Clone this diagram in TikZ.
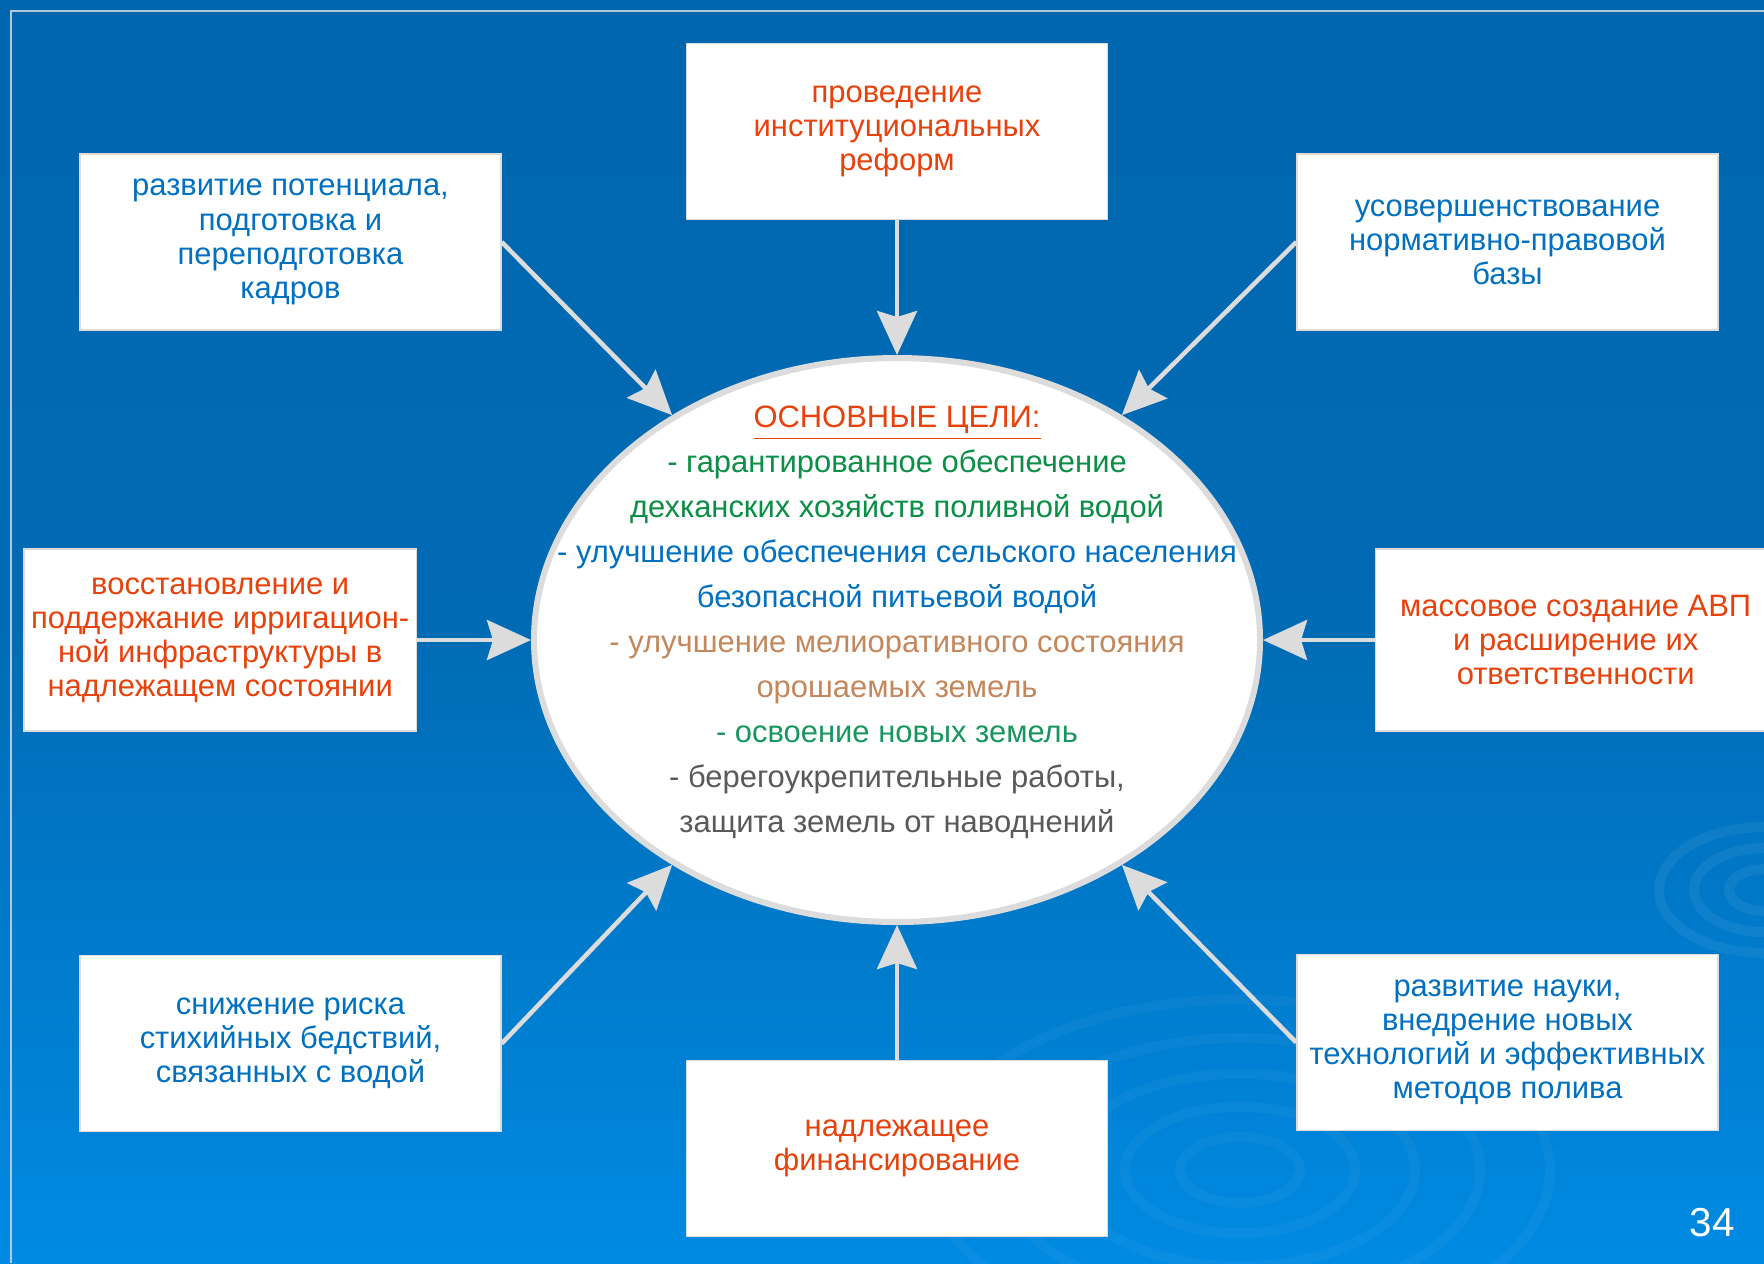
\documentclass[tikz,border=0pt]{standalone}
\usepackage{fontspec}
\setmainfont{Liberation Sans}
\usepackage{tikz}
\usetikzlibrary{positioning,shapes.geometric,arrows.meta}
\definecolor{bgtop}{HTML}{0066AD}
\definecolor{bgbottom}{HTML}{008AE2}
\definecolor{framegray}{HTML}{B4C8DC}
\definecolor{arrowgray}{HTML}{DCDCDC}
\definecolor{txtblue}{HTML}{0070C0}
\definecolor{txtred}{HTML}{E8420C}
\definecolor{txtgreen}{HTML}{0B8E45}
\definecolor{txttan}{HTML}{C4875C}
\definecolor{txtteal}{HTML}{17965E}
\definecolor{txtgray}{HTML}{595959}
\begin{document}
\begin{tikzpicture}[
    sidebox/.style={rectangle,fill=white,draw=arrowgray,line width=0.4pt,align=center,
        minimum width=4.21cm,minimum height=1.76cm,inner sep=2pt,
        font=\fontsize{8.8}{9.7}\selectfont},
    widebox/.style={sidebox,minimum width=3.85cm,minimum height=1.82cm},
    goalsell/.style={ellipse,fill=white,draw=arrowgray,line width=0.06cm,
        minimum width=7.26cm,minimum height=5.64cm,inner sep=0pt},
    goalstext/.style={align=center,font=\fontsize{8.8}{12.8}\selectfont},
    toward/.style={arrowgray,line width=0.045cm,
        -{Stealth[length=0.44cm,width=0.4cm,inset=0.06cm]}},
    ripple/.style={draw=white,opacity=0.035,line width=0.1cm}]
    \useasboundingbox (0,0) rectangle (17.64,-12.63);
    \shade[top color=bgtop,bottom color=bgbottom,middle color=bgtop!85!bgbottom]
        (0,0) rectangle (17.64,-12.63);
    \foreach \r in {0.6,1.15,1.75,2.4,3.1}
        \draw[ripple] (12.4,-11.7) ellipse ({\r} and {0.55*\r});
    \foreach \r in {0.35,0.7,1.05}
        \draw[ripple,opacity=0.06] (17.64,-8.9) ellipse ({\r} and {0.6*\r});
    \draw[framegray,line width=0.02cm] (0.11,-12.63) -- (0.11,-0.11) -- (17.64,-0.11);

    \node[goalsell](goals) at (8.97,-6.40){};
    \node[goalstext](goaltext) at ([yshift=0.18cm]goals.center){%
        \textcolor{txtred}{\underline{ОСНОВНЫЕ ЦЕЛИ:}}\\
        \textcolor{txtgreen}{- гарантированное обеспечение}\\
        \textcolor{txtgreen}{дехканских хозяйств поливной водой}\\
        \textcolor{txtblue}{- улучшение обеспечения сельского населения}\\
        \textcolor{txtblue}{безопасной питьевой водой}\\
        \textcolor{txttan}{- улучшение мелиоративного состояния}\\
        \textcolor{txttan}{орошаемых земель}\\
        \textcolor{txtteal}{- освоение новых земель}\\
        \textcolor{txtgray}{- берегоукрепительные работы,}\\
        \textcolor{txtgray}{защита земель от наводнений}};

    \node[sidebox,text=txtred, node distance=1.35cm](reform)[above =of goals]
        {проведение\\институциональных\\реформ};
    \node[sidebox,text=txtred, node distance=1.35cm](finance)[below =of goals]
        {надлежащее\\финансирование};
    \node[widebox,text=txtred, node distance=1.14cm](irrig)[left =of goals]
        {восстановление и\\поддержание ирригацион-\\ной инфраструктуры в\\надлежащем состоянии};
    \node[widebox,text=txtred, minimum width=4.0cm, node distance=1.12cm](avp)[right =of goals]
        {массовое создание АВП\\и расширение их\\ответственности};
    \node[sidebox,text=txtblue](cadres) at (2.905,-2.42)
        {развитие потенциала,\\подготовка и\\переподготовка\\кадров};
    \node[sidebox,text=txtblue](lawbase) at (15.075,-2.42)
        {усовершенствование\\нормативно-правовой\\базы};
    \node[sidebox,text=txtblue](risk) at (2.905,-10.435)
        {снижение риска\\стихийных бедствий,\\связанных с водой};
    \node[sidebox,text=txtblue](science) at (15.075,-10.425)
        {развитие науки,\\внедрение новых\\технологий и эффективных\\методов полива};

    \path (reform) edge[toward] (goals.north)
          (finance) edge[toward] (goals.south)
          (irrig) edge[toward] (goals.west)
          (avp) edge[toward] (goals.east)
          (cadres.east) edge[toward] (goals.135)
          (lawbase.west) edge[toward] (goals.45)
          (risk.east) edge[toward] (goals.225)
          (science.west) edge[toward] (goals.-45);

    \node[text=white,font=\fontsize{11.5}{13}\selectfont](pagenum) at (17.12,-12.23){34};
\end{tikzpicture}
\end{document}
